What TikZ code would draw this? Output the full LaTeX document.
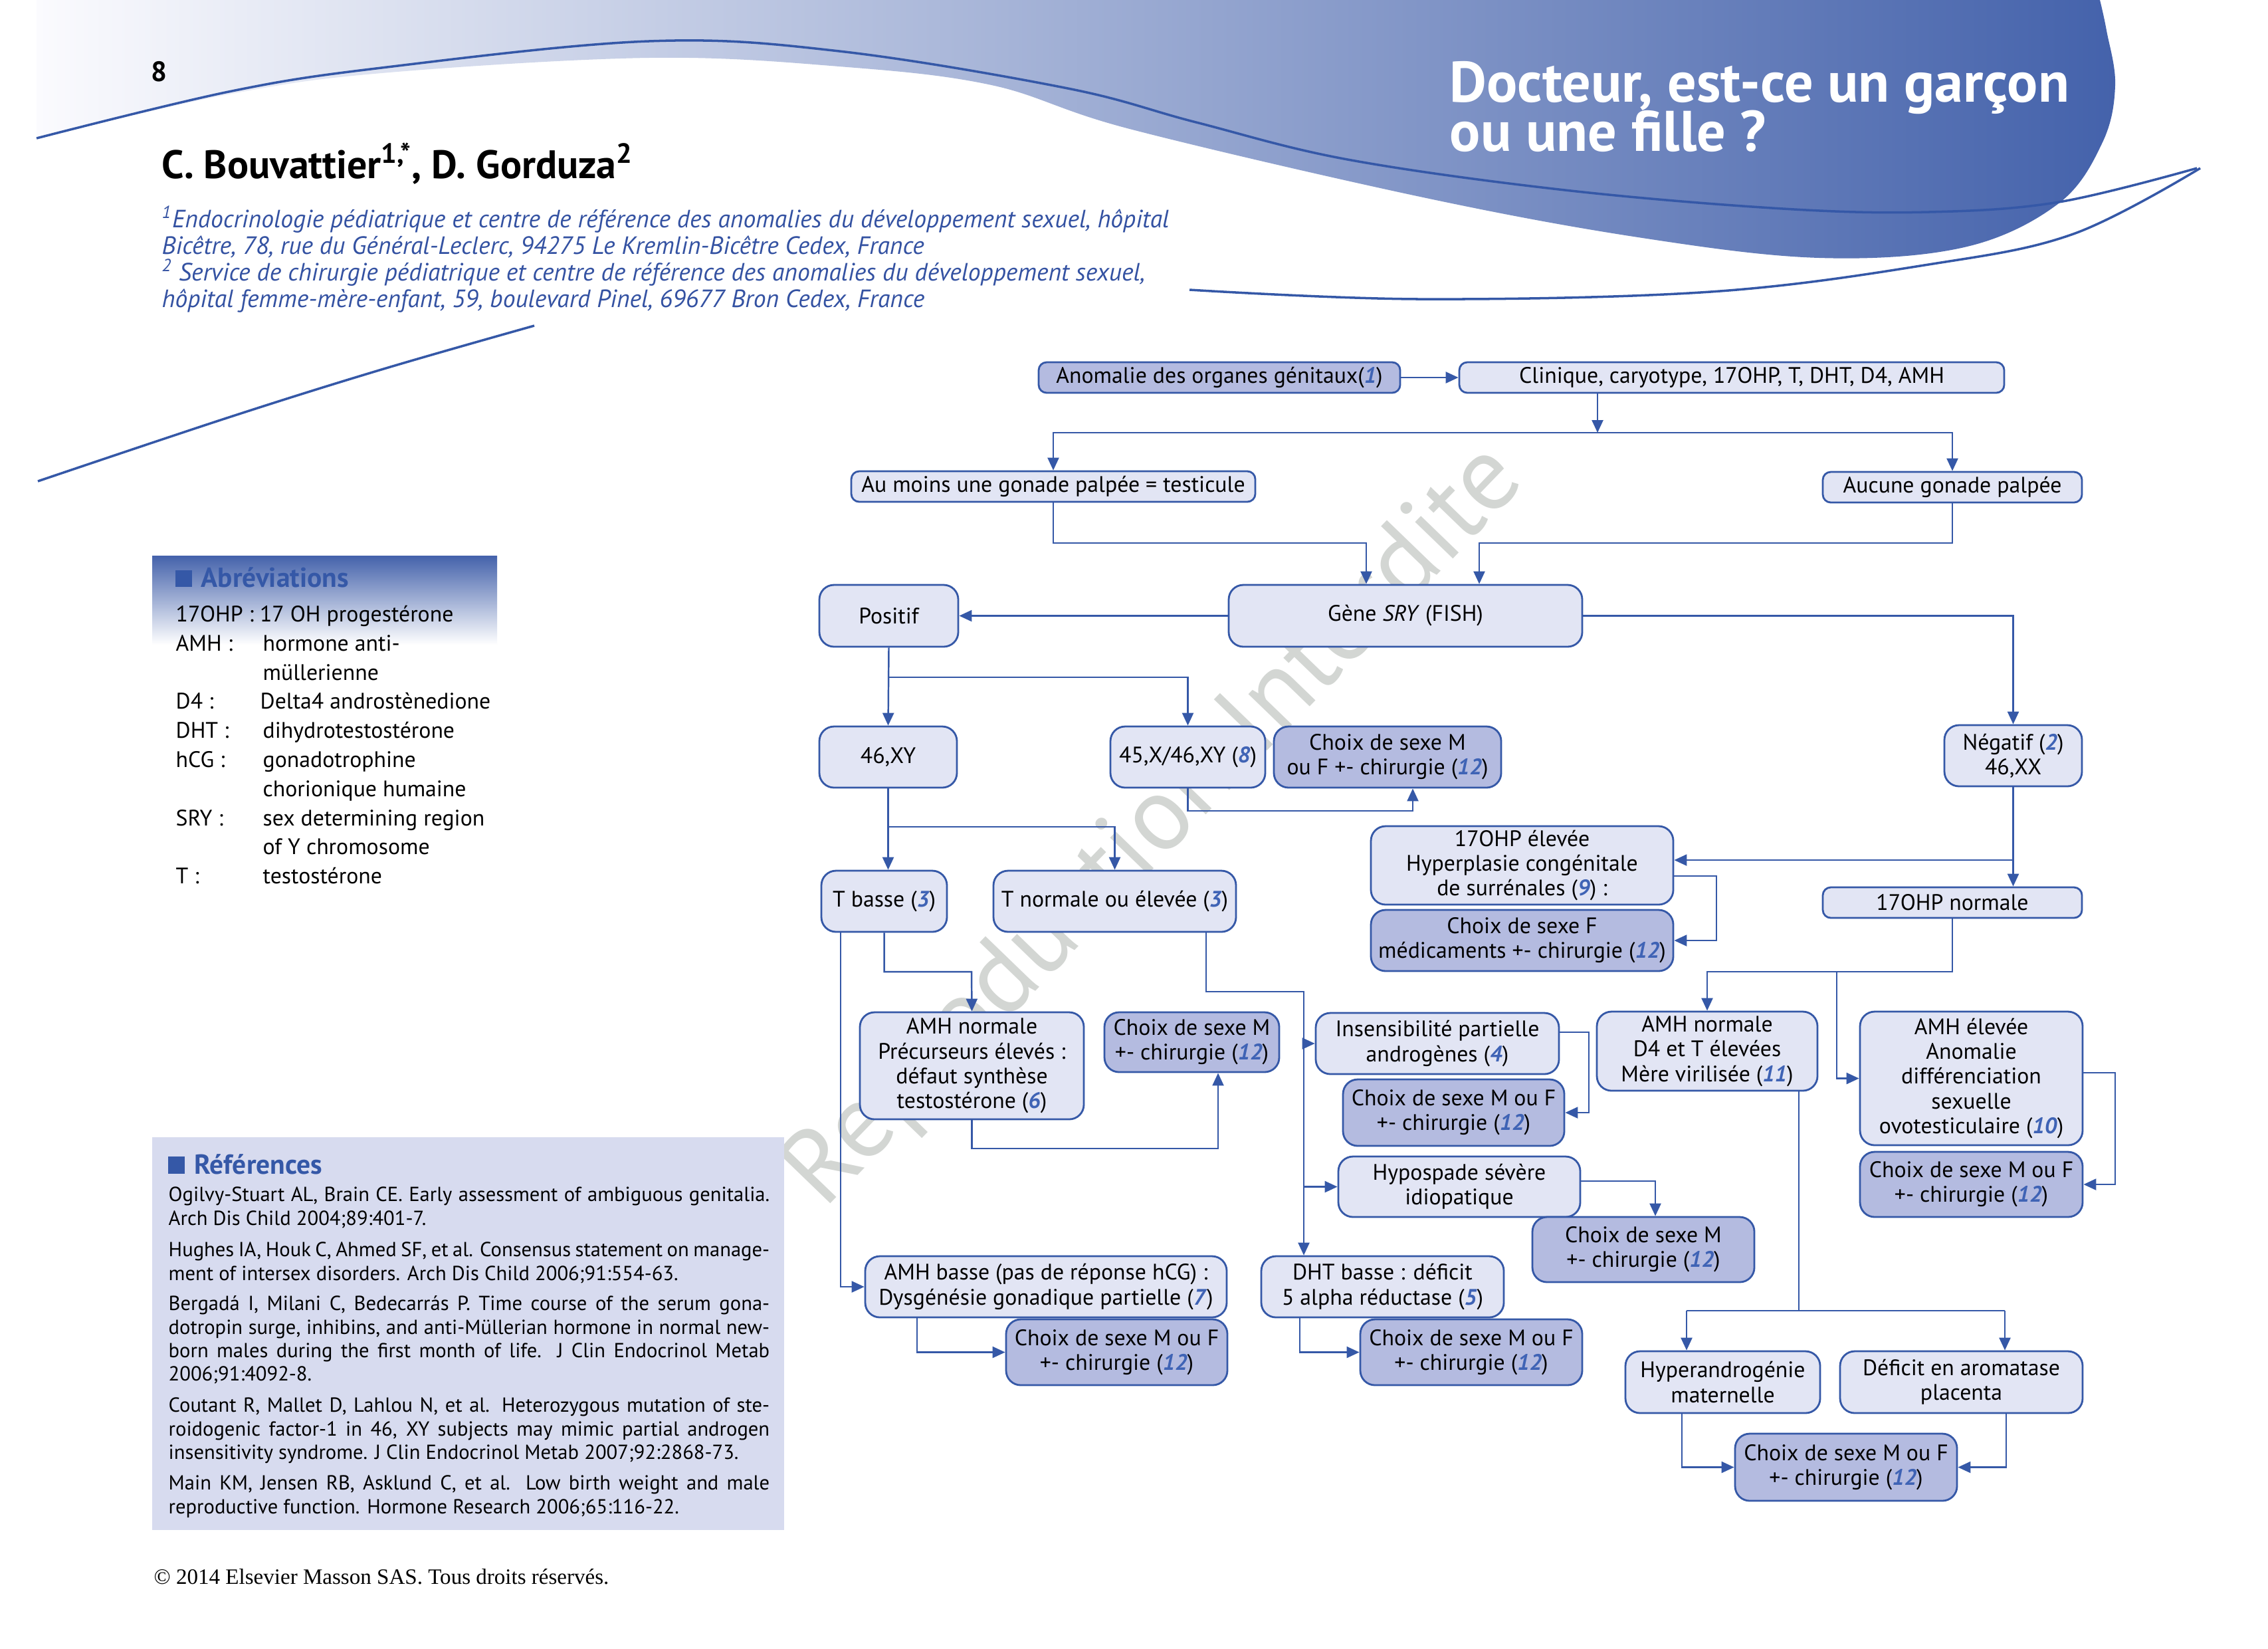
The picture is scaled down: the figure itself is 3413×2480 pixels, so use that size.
\documentclass[tikz,border=0pt]{standalone}
\usepackage{fontspec}
\setmainfont{PT Sans}
\newfontfamily\cpfont{Liberation Serif}
\usetikzlibrary{arrows.meta}
\definecolor{lineblue}{HTML}{3558A7}
\definecolor{lightfill}{HTML}{E2E5F4}
\definecolor{darkfill}{HTML}{B4BBE0}
\definecolor{refbg}{HTML}{D7DBEF}
\definecolor{hdrblue}{HTML}{4462AB}
\definecolor{hdrlight}{HTML}{FBFBFE}
\definecolor{numblue}{HTML}{3F63B5}
\definecolor{affblue}{HTML}{3452A2}
\definecolor{wmgray}{HTML}{D3D6D3}
\newcommand\bxfont{\fontsize{9.6}{10.6}\selectfont}
\newcommand\nb[1]{\textcolor{numblue}{\textbf{\textit{#1}}}}
\newcommand\bx[7]{\node[#1, minimum width={(#5-#3)*0.01cm}, minimum height={(#6-#4)*0.01cm}] (#2) at ({(#3+#5)/2},{(#4+#6)/2}) {#7};}
\newcommand\reffont{\fontsize{8.7}{10}\selectfont}
\newcommand\rfull[3]{\node[anchor=base west, inner sep=0, font=\reffont] (#1) at (253,#2) {\makebox[9.04cm][s]{#3}};}
\newcommand\rnat[3]{\node[anchor=base west, inner sep=0, font=\reffont] (#1) at (253,#2) {#3};}
\newcommand\abfont{\fontsize{9.6}{11}\selectfont}
\tikzset{
  bxbase/.style={draw=lineblue, line width=0.8pt, rounded corners=0.22cm, inner sep=0pt, align=center, font=\bxfont},
  lt/.style={bxbase, fill=lightfill},
  dk/.style={bxbase, fill=darkfill},
  sm/.style={rounded corners=0.12cm},
  ar/.style={draw=lineblue, line width=0.7pt, -{Triangle[length=0.19cm,width=0.17cm]}},
  ln/.style={draw=lineblue, line width=0.7pt},
  hdrline/.style={draw=lineblue, line width=1pt},
  ab/.style={anchor=base west, inner sep=0, font=\abfont},
  afl/.style={anchor=base west, inner sep=0, text=affblue, font=\itshape\fontsize{10.7}{11}\selectfont},
}
\begin{document}
\begin{tikzpicture}[x=0.01cm,y=-0.01cm]
\useasboundingbox (0,0) rectangle (3413,2480);
\fill[white] (0,0) rectangle (3413,2480);

% header band
\shade[left color=hdrlight, right color=hdrblue] (55,0) -- plot[smooth, tension=0.6] coordinates {(55,208) (344,142) (574,110) (976,87) (1263,100) (1492,128) (1700,194) (2137,296) (2465,357) (2738,388) (2956,372) (3098,306) (3164,214) (3183,128) (3170,46) (3160,0)} -- cycle;
\draw[hdrline] plot[smooth, tension=0.6] coordinates {(55,208) (344,138) (574,102) (976,62) (1263,77) (1607,133) (1800,184) (2028,240) (2355,286) (2683,314) (2902,319) (3098,304) (3306,253)};
\draw[hdrline] plot[smooth, tension=0.6] coordinates {(1790,436) (2137,450) (2574,439) (2902,398) (3120,352) (3311,253)};
\draw[hdrline] plot[smooth, tension=0.6] coordinates {(57,724) (344,628) (574,556) (804,490)};

\node[anchor=center, inner sep=0, font=\bfseries\fontsize{12}{12}\selectfont] (pg) at (239,108) {8};
\node[anchor=base west, inner sep=0, text=white, font=\bfseries\fontsize{24.5}{24}\selectfont] (t1) at (2181,153) {Docteur, est-ce un garçon};
\node[anchor=base west, inner sep=0, text=white, font=\bfseries\fontsize{24.5}{24}\selectfont] (t2) at (2181,227) {ou une fille ?};
\node[anchor=base west, inner sep=0, font=\bfseries\fontsize{17}{18}\selectfont] (auth) at (243,268) {C. Bouvattier\textsuperscript{1,*}, D. Gorduza\textsuperscript{2}};
\node[afl] (af1) at (243,342) {\textsuperscript{1}Endocrinologie pédiatrique et centre de référence des anomalies du développement sexuel, hôpital};
\node[afl] (af2) at (243,382) {Bicêtre, 78, rue du Général-Leclerc, 94275 Le Kremlin-Bicêtre Cedex, France};
\node[afl] (af3) at (243,422) {\textsuperscript{2} Service de chirurgie pédiatrique et centre de référence des anomalies du développement sexuel,};
\node[afl] (af4) at (243,462) {hôpital femme-mère-enfant, 59, boulevard Pinel, 69677 Bron Cedex, France};

% watermark
\node[rotate=46, text=wmgray, inner sep=0, font=\fontsize{45}{45}\selectfont] (wm) at (1740,1245) {Reproduction Interdite};

% abbreviations
\shade[top color=hdrblue, bottom color=white] (229,836) rectangle (748,970);
\fill[lineblue] (264,858) rectangle (289,883);
\node[anchor=base west, inner sep=0, text=lineblue, font=\bfseries\fontsize{11.8}{12}\selectfont] (abt) at (302,883) {Abréviations};
\node[ab] (a1) at (264,935) {17OHP : 17 OH progestérone};
\node[ab] (a2) at (264,979) {AMH :};
\node[ab] (a2d) at (395,979) {hormone anti-};
\node[ab] (a3d) at (395,1023) {müllerienne};
\node[ab] (a4) at (264,1066) {D4 :};
\node[ab] (a4d) at (391,1066) {Delta4 androstènedione};
\node[ab] (a5) at (264,1110) {DHT :};
\node[ab] (a5d) at (395,1110) {dihydrotestostérone};
\node[ab] (a6) at (264,1154) {hCG :};
\node[ab] (a6d) at (395,1154) {gonadotrophine};
\node[ab] (a7d) at (395,1198) {chorionique humaine};
\node[ab] (a8) at (264,1242) {SRY :};
\node[ab] (a8d) at (395,1242) {sex determining region};
\node[ab] (a9d) at (395,1285) {of Y chromosome};
\node[ab] (a10) at (264,1329) {T :};
\node[ab] (a10d) at (395,1329) {testostérone};

% references
\fill[refbg] (229,1711) rectangle (1180,2302);
\fill[lineblue] (253,1740) rectangle (278,1766);
\node[anchor=base west, inner sep=0, text=lineblue, font=\bfseries\fontsize{11.8}{12}\selectfont] (rft) at (292,1766) {Références};
\rfull{r1}{1807}{Ogilvy-Stuart AL, Brain CE. Early assessment of ambiguous genitalia.}
\rnat{r2}{1843}{Arch Dis Child 2004;89:401-7.}
\rfull{r3}{1890}{Hughes IA, Houk C, Ahmed SF, et al. Consensus statement on manage-}
\rnat{r4}{1926}{ment of intersex disorders. Arch Dis Child 2006;91:554-63.}
\rfull{r5}{1971}{Bergadá I, Milani C, Bedecarrás P. Time course of the serum gona-}
\rfull{r6}{2007}{dotropin surge, inhibins, and anti-Müllerian hormone in normal new-}
\rfull{r7}{2042}{born males during the first month of life. J Clin Endocrinol Metab}
\rnat{r8}{2077}{2006;91:4092-8.}
\rfull{r9}{2124}{Coutant R, Mallet D, Lahlou N, et al. Heterozygous mutation of ste-}
\rfull{r10}{2160}{roidogenic factor-1 in 46, XY subjects may mimic partial androgen}
\rnat{r11}{2195}{insensitivity syndrome. J Clin Endocrinol Metab 2007;92:2868-73.}
\rfull{r12}{2241}{Main KM, Jensen RB, Asklund C, et al. Low birth weight and male}
\rnat{r13}{2277}{reproductive function. Hormone Research 2006;65:116-22.}
\node[anchor=base west, inner sep=0, font=\cpfont\fontsize{9.4}{10}\selectfont] (cp) at (231,2383) {© 2014 Elsevier Masson SAS. Tous droits réservés.};

% flowchart boxes
\bx{dk,sm}{anom}{1563}{545}{2107}{591}{Anomalie des organes génitaux(\nb{1})}
\bx{lt,sm}{clin}{2196}{545}{3016}{591}{Clinique, caryotype, 17OHP, T, DHT, D4, AMH}
\bx{lt,sm}{aumoins}{1281}{709}{1889}{755}{Au moins une gonade palpée = testicule}
\bx{lt,sm}{aucune}{2743}{710}{3133}{756}{Aucune gonade palpée}
\bx{lt}{gene}{1849}{880}{2381}{973}{Gène \textit{SRY} (FISH)}
\bx{lt}{positif}{1233}{880}{1442}{973}{Positif}
\bx{lt}{xy46}{1233}{1093}{1440}{1185}{46,XY}
\bx{lt}{mos}{1671}{1093}{1904}{1185}{45,X/46,XY (\nb{8})}
\bx{dk}{choixA}{1917}{1093}{2259}{1185}{Choix de sexe M\\ou F +- chirurgie (\nb{12})}
\bx{lt}{negatif}{2926}{1091}{3133}{1183}{Négatif (\nb{2})\\46,XX}
\bx{lt}{tbasse}{1236}{1310}{1425}{1402}{T basse (\nb{3})}
\bx{lt}{tnorm}{1495}{1310}{1860}{1402}{T normale ou élevée (\nb{3})}
\bx{lt}{ohpe}{2063}{1243}{2518}{1361}{17OHP élevée\\Hyperplasie congénitale\\de surrénales (\nb{9}) :}
\bx{dk}{choixG}{2063}{1369}{2518}{1461}{Choix de sexe F\\médicaments +- chirurgie (\nb{12})}
\bx{lt,sm}{ohpn}{2743}{1335}{3133}{1381}{17OHP normale}
\bx{lt}{amhp}{1294}{1523}{1631}{1684}{AMH normale\\Précurseurs élevés :\\défaut synthèse\\testostérone (\nb{6})}
\bx{dk}{choixB}{1662}{1523}{1925}{1613}{Choix de sexe M\\+- chirurgie (\nb{12})}
\bx{lt}{insens}{1980}{1524}{2346}{1616}{Insensibilité partielle\\androgènes (\nb{4})}
\bx{dk}{choixD}{2021}{1624}{2354}{1724}{Choix de sexe M ou F\\+- chirurgie (\nb{12})}
\bx{lt}{amhd}{2403}{1522}{2735}{1641}{AMH normale\\D4 et T élevées\\Mère virilisée (\nb{11})}
\bx{lt}{amhe}{2799}{1522}{3134}{1723}{AMH élevée\\Anomalie\\différenciation\\sexuelle\\ovotesticulaire (\nb{10})}
\bx{dk}{choixH}{2799}{1733}{3134}{1831}{Choix de sexe M ou F\\+- chirurgie (\nb{12})}
\bx{lt}{hypo}{2014}{1740}{2378}{1831}{Hypospade sévère\\idiopatique}
\bx{dk}{choixE}{2306}{1831}{2640}{1929}{Choix de sexe M\\+- chirurgie (\nb{12})}
\bx{lt}{amhb}{1302}{1890}{1846}{1982}{AMH basse (pas de réponse hCG) :\\Dysgénésie gonadique partielle (\nb{7})}
\bx{dk}{choixC}{1514}{1985}{1847}{2084}{Choix de sexe M ou F\\+- chirurgie (\nb{12})}
\bx{lt}{dht}{1898}{1890}{2263}{1982}{DHT basse : déficit\\5 alpha réductase (\nb{5})}
\bx{dk}{choixF}{2047}{1985}{2381}{2084}{Choix de sexe M ou F\\+- chirurgie (\nb{12})}
\bx{lt}{hyper}{2446}{2033}{2739}{2126}{Hyperandrogénie\\maternelle}
\bx{lt}{deficit}{2769}{2033}{3134}{2126}{Déficit en aromatase\\placenta}
\bx{dk}{choixI}{2611}{2157}{2945}{2258}{Choix de sexe M ou F\\+- chirurgie (\nb{12})}

% connector helper coordinates
\coordinate (c1) at (2404,651);
\coordinate (g1) at (2056,817);
\coordinate (g2) at (2226,817);
\coordinate (b1) at (1337,1019);
\coordinate (b2) at (2126,1220);
\coordinate (b3) at (1337,1244);
\coordinate (b4) at (1462,1462);
\coordinate (b5) at (1833,1728);
\coordinate (b6) at (1265,1937);
\coordinate (b7) at (1380,2036);
\coordinate (b8a) at (1815,0);
\coordinate (b8) at (1962,1492);
\coordinate (b9) at (2391,1553);
\coordinate (b10) at (2491,1777);
\coordinate (b11) at (1956,2036);
\coordinate (b12) at (3030,1294);
\coordinate (b13) at (2583,1318);
\coordinate (b14) at (2569,1462);
\coordinate (b15) at (2764,1462);
\coordinate (b16) at (3183,1614);
\coordinate (b17) at (2707,1972);
\coordinate (b17L) at (2538,1972);
\coordinate (b17R) at (3017,1972);
\coordinate (b18) at (2531,2198);
\coordinate (b19) at (3019,2198);

% connectors
\draw[ar] (anom) -- (clin);
\draw[ar] (clin.south -| c1) -- (c1);
\draw[ar] (c1) -| (aumoins.north);
\draw[ar] (c1) -| (aucune.north);
\draw[ar] (aumoins.south) |- (g1) -- (g1 |- gene.north);
\draw[ar] (aucune.south) |- (g2) -- (g2 |- gene.north);
\draw[ar] (gene.west) -- (positif.east);
\draw[ar] (gene.east) -| (negatif.north);
\draw[ar] (positif.south) -- (xy46.north);
\draw[ar] (b1) -| (mos.north);
\draw[ar] (mos.south) |- (b2) -- (b2 |- choixA.south);
\draw[ar] (xy46.south) -- (xy46.south |- tbasse.north);
\draw[ar] (b3) -| (tnorm.north);
\draw[ar] (tbasse.south) |- (b4) -- (amhp.north);
\draw[ar] (amhp.south) |- (b5) -- (b5 |- choixB.south);
\draw[ar] (tbasse.south -| b6) |- (amhb.west);
\draw[ar] (amhb.south -| b7) |- (choixC.west);
\draw[ar] (tnorm.south -| b8a) |- (b8) -- (b8 |- dht.north);
\draw[ar] (b8 |- insens.west) -- (insens.west);
\draw[ar] (b8 |- hypo.west) -- (hypo.west);
\draw[ar] (b9 -| insens.east) -- (b9) |- (choixD.east);
\draw[ar] (b10 -| hypo.east) -- (b10) -- (b10 |- choixE.north);
\draw[ar] (dht.south -| b11) |- (choixF.west);
\draw[ar] (negatif.south) -- (negatif.south |- ohpn.north);
\draw[ar] (b12) -- (b12 -| ohpe.east);
\draw[ar] (b13 -| ohpe.east) -- (b13) |- (choixG.east);
\draw[ar] (ohpn.south) |- (b14) -- (amhd.north);
\draw[ar] (b15) |- (amhe.west);
\draw[ar] (b16 -| amhe.east) -- (b16) |- (choixH.east);
\draw[ln] (amhd.south -| b17) -- (b17);
\draw[ln] (b17L) -- (b17R);
\draw[ar] (b17L) -- (b17L |- hyper.north);
\draw[ar] (b17R) -- (b17R |- deficit.north);
\draw[ar] (hyper.south -| b18) |- (choixI.west);
\draw[ar] (deficit.south -| b19) |- (choixI.east);
\end{tikzpicture}
\end{document}
